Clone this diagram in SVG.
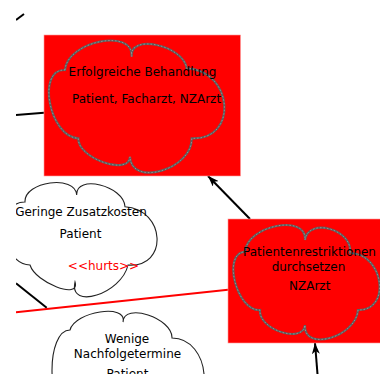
<svg xmlns="http://www.w3.org/2000/svg" width="380" height="374" viewBox="0 0 380 374">
  <style>
    .lbl { font-family: "DejaVu Sans", "Liberation Sans", sans-serif; font-size: 12px; fill: #000; text-anchor: middle; }
    .hurt { fill: #ff0000; }
    .hot { fill: #ff0000; stroke: #ff9a9a; stroke-width: 0.6; }
    .cloud-red { fill: #ff0000; stroke: #5e5e5e; stroke-width: 2.2; }
    .cloud-red-hi { fill: none; stroke: #b4b4b4; stroke-width: 0.6; stroke-dasharray: 1.5 2; }
    .cloud-white { fill: #fff; stroke: #222; stroke-width: 1.1; }
    .edge { fill: none; stroke: #000; stroke-width: 2; }
    .edge-red { fill: none; stroke: #ff0000; stroke-width: 2; }
  </style>
  <defs>
    <clipPath id="view">
      <rect x="16" y="0" width="364" height="374"/>
    </clipPath>
    <marker id="arrow" viewBox="0 0 11 8" refX="11" refY="4" markerWidth="11" markerHeight="8" orient="auto" markerUnits="userSpaceOnUse">
      <path d="M0,0 L11,4 L0,8 L3,4 Z" fill="#000"/>
    </marker>
  </defs>

  <rect width="380" height="374" fill="#fff"/>

  <g clip-path="url(#view)">
    <!-- Connectors -->
    <g id="connectors">
      <path class="edge" d="M16,20 L24,14" stroke-width="1.5"/>
      <path class="edge" d="M16,115 L44,112.7"/>
      <path class="edge" d="M250,219 L208,176" marker-end="url(#arrow)"/>
      <path class="edge" d="M317.5,374 L315,343" marker-end="url(#arrow)"/>
      <path class="edge" d="M16,283.3 L46.7,307.7"/>
      <path class="edge-red" d="M16,312.3 L228,289.8"/>
    </g>

    <!-- Softgoal: Erfolgreiche Behandlung (highlighted) -->
    <g id="node-erfolgreiche-behandlung">
      <rect class="hot" x="44" y="35" width="196.5" height="141"/>
      <path class="cloud-red" d="M65,70 C67.2,41.1 133.9,27.8 131.7,56.7 C128.4,33.4 183.4,45 186.7,68.3 C233.5,70.6 238.5,140.6 191.7,138.3 C192.8,169.2 131.1,187.6 130,156.7 C128.9,176.4 77.2,158 78.3,138.3 C49.4,137.2 36.1,68.9 65,70 Z"/>
      <path class="cloud-red-hi" d="M65,70 C67.2,41.1 133.9,27.8 131.7,56.7 C128.4,33.4 183.4,45 186.7,68.3 C233.5,70.6 238.5,140.6 191.7,138.3 C192.8,169.2 131.1,187.6 130,156.7 C128.9,176.4 77.2,158 78.3,138.3 C49.4,137.2 36.1,68.9 65,70 Z"/>
      <text class="lbl" x="142.5" y="75.7">Erfolgreiche Behandlung</text>
      <text class="lbl" x="146.6" y="103.3">Patient, Facharzt, NZArzt</text>
    </g>

    <!-- Softgoal: Patientenrestriktionen durchsetzen (highlighted) -->
    <g id="node-patientenrestriktionen">
      <rect class="hot" x="228" y="219" width="153" height="124"/>
      <path class="cloud-red" d="M245,251.7 C247.3,225.2 307.3,213.5 305,240 C308.3,216.7 353.3,229.7 350,253 C383.7,253.7 391.7,310.7 358,310 C356,337.3 303,352.3 305,325 C303,344.3 258,329.3 260,310 C236.7,311.5 221.7,253.2 245,251.7 Z"/>
      <path class="cloud-red-hi" d="M245,251.7 C247.3,225.2 307.3,213.5 305,240 C308.3,216.7 353.3,229.7 350,253 C383.7,253.7 391.7,310.7 358,310 C356,337.3 303,352.3 305,325 C303,344.3 258,329.3 260,310 C236.7,311.5 221.7,253.2 245,251.7 Z"/>
      <text class="lbl" x="309.5" y="256">Patientenrestriktionen</text>
      <text class="lbl" x="308.5" y="270.7">durchsetzen</text>
      <text class="lbl" x="309.7" y="290">NZArzt</text>
    </g>

    <!-- Softgoal: Geringe Zusatzkosten -->
    <g id="node-geringe-zusatzkosten">
      <path class="cloud-white" d="M25,202 C23.9,181.3 75.6,174.3 76.7,195 C75.6,173.9 123.9,185.6 125,206.7 C165.7,209.6 168.7,267.9 128,265 C121.6,293.7 68.6,310.7 75,282 C80.6,300 35.6,283 30,265 C0,264.3 -5,201.3 25,202 Z"/>
      <text class="lbl" x="81" y="215.5">Geringe Zusatzkosten</text>
      <text class="lbl" x="80.5" y="238">Patient</text>
      <text class="lbl hurt" x="103.5" y="269.5">&lt;&lt;hurts&gt;&gt;</text>
    </g>

    <!-- Softgoal: Wenige Nachfolgetermine (runs past the lower edge) -->
    <g id="node-wenige-nachfolgetermine">
      <path class="cloud-white" d="M70,330 C74.7,311.3 127.7,303.3 123,322 C123.7,302 172.7,318 172,338 C210.7,338 216.7,410 178,410 C176,440 123,455 125,425 C125.7,448.3 70.7,433.3 70,410 C46,410 46,330 70,330 Z"/>
      <text class="lbl" x="127" y="343.3">Wenige</text>
      <text class="lbl" x="127.5" y="358.3">Nachfolgetermine</text>
      <text class="lbl" x="127.5" y="377.5">Patient</text>
    </g>
  </g>
</svg>
